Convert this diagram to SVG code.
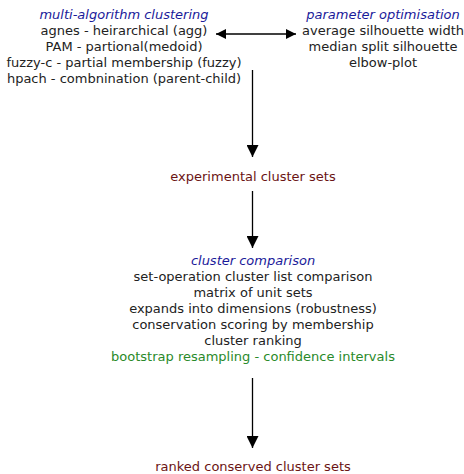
<svg xmlns="http://www.w3.org/2000/svg" width="464" height="474" viewBox="0 0 464 474">
<style>
text{font-family:"DejaVu Sans",sans-serif;font-size:13px;text-anchor:middle;fill:#222}
.h{fill:#1a1a9a;font-style:italic}
.r{fill:#6b1414}
.g{fill:#2a8a2a}
.c{stroke:#000;stroke-width:1.3;fill:none}
</style>
<defs>
<marker id="ah" viewBox="0 0 10 10" refX="10" refY="5" markerWidth="10" markerHeight="10" markerUnits="userSpaceOnUse" orient="auto-start-reverse"><path d="M0,0 L10,5 L0,10 Z" fill="#000"/></marker>
<marker id="av" viewBox="0 0 12 12" refX="12" refY="6" markerWidth="12" markerHeight="12" markerUnits="userSpaceOnUse" orient="auto"><path d="M0,0 L12,6 L0,12 Z" fill="#000"/></marker>
</defs>
<g id="multi-algorithm">
<text x="124" y="19" class="h">multi-algorithm clustering</text>
<text x="124" y="35">agnes - heirarchical (agg)</text>
<text x="124" y="51">PAM - partional(medoid)</text>
<text x="124" y="67">fuzzy-c - partial membership (fuzzy)</text>
<text x="124" y="83">hpach - combnination (parent-child)</text>
</g>
<g id="parameter-optimisation">
<text x="383" y="19" class="h">parameter optimisation</text>
<text x="383" y="35">average silhouette width</text>
<text x="383" y="51">median split silhouette</text>
<text x="383" y="67">elbow-plot</text>
</g>
<g id="experimental">
<text x="253" y="181" class="r">experimental cluster sets</text>
</g>
<g id="comparison">
<text x="253" y="265" class="h">cluster comparison</text>
<text x="253" y="281">set-operation cluster list comparison</text>
<text x="253" y="297">matrix of unit sets</text>
<text x="253" y="313">expands into dimensions (robustness)</text>
<text x="253" y="329">conservation scoring by membership</text>
<text x="253" y="345">cluster ranking</text>
<text x="253" y="361" class="g">bootstrap resampling - confidence intervals</text>
</g>
<g id="ranked">
<text x="253" y="471" class="r">ranked conserved cluster sets</text>
</g>
<g id="connectors">
<line class="c" x1="216" y1="34" x2="296" y2="34" marker-start="url(#ah)" marker-end="url(#ah)"/>
<line class="c" x1="252.5" y1="70" x2="252.5" y2="157" marker-end="url(#av)"/>
<line class="c" x1="252.5" y1="191" x2="252.5" y2="248" marker-end="url(#av)"/>
<line class="c" x1="252.5" y1="378" x2="252.5" y2="448" marker-end="url(#av)"/>
</g>
</svg>
